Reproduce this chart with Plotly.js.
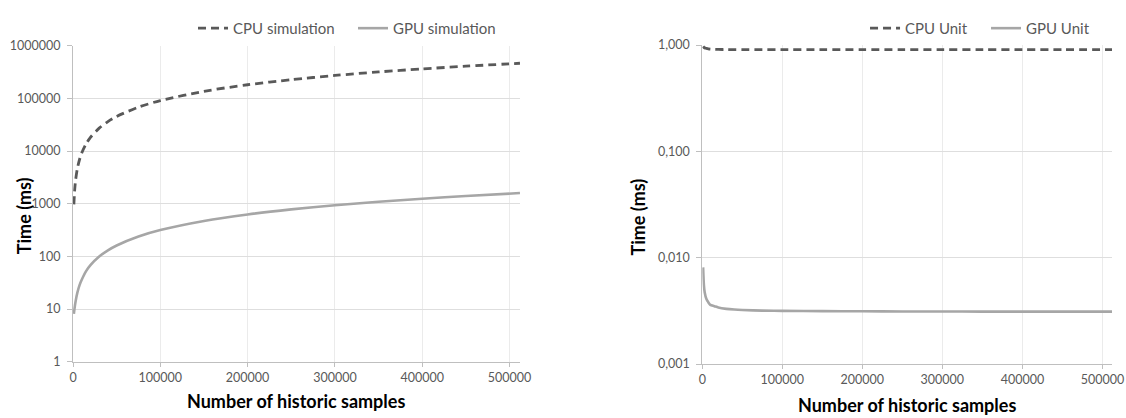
<!DOCTYPE html>
<html>
<head>
<meta charset="utf-8">
<script src="https://cdn.plot.ly/plotly-3.0.1.min.js"></script>
<style>html,body{margin:0;padding:0;background:#fff;}#chart{width:1126px;height:418px;}</style>
</head>
<body>
<div id="chart"></div>
<script>
// Number of historic samples (x)
const samples = [1000, 2000, 3000, 5000, 7500, 10000, 15000, 20000, 30000, 40000, 50000, 75000, 100000, 150000, 200000, 250000, 300000, 350000, 400000, 450000, 512000];

// Left chart: total simulation time (ms)
const cpuSimulation = [970, 1900, 2820, 4650, 6900, 9150, 13650, 18160, 27180, 36200, 45250, 67900, 90500, 135800, 181000, 226000, 271500, 317000, 362000, 407000, 463000];
const gpuSimulation = [8.1, 11, 14.1, 20.5, 28.5, 36, 52.5, 68, 99, 130, 161, 238.5, 316, 471, 626, 780, 936, 1089, 1244, 1400, 1592];

// Right chart: time per unit (ms)
const cpuUnit = [0.97, 0.95, 0.94, 0.93, 0.92, 0.915, 0.91, 0.908, 0.906, 0.905, 0.905, 0.905, 0.905, 0.905, 0.905, 0.905, 0.905, 0.905, 0.905, 0.905, 0.905];
const gpuUnit = [0.0081, 0.0055, 0.0047, 0.0041, 0.0038, 0.0036, 0.0035, 0.0034, 0.0033, 0.00325, 0.00322, 0.00318, 0.00316, 0.00314, 0.00313, 0.00312, 0.00312, 0.00311, 0.00311, 0.00311, 0.00311];

// Tick labels
const xTickVals = [0, 100000, 200000, 300000, 400000, 500000];
const xTickText = ["0", "100000", "200000", "300000", "400000", "500000"];
const leftYTickVals = [1, 10, 100, 1000, 10000, 100000, 1000000];
const leftYTickText = ["1", "10", "100", "1000", "10000", "100000", "1000000"];
const rightYTickVals = [0.001, 0.01, 0.1, 1];
const rightYTickText = ["0,001", "0,010", "0,100", "1,000"];

// Labels
const seriesNames = ["CPU simulation", "GPU simulation", "CPU Unit", "GPU Unit"];
const yTitle = "Time (ms)";
const xTitle = "Number of historic samples";

const FONT = "Lato, 'Open Sans', sans-serif";
const cpuLine = {color: "#595959", width: 2.8, dash: "8px,5px", shape: "spline", smoothing: 0.8};
const gpuLine = {color: "#a6a6a6", width: 2.6, shape: "spline", smoothing: 0.8};

const traces = [
  {x: samples, y: cpuSimulation, name: seriesNames[0], type: "scatter", mode: "lines", line: cpuLine, xaxis: "x", yaxis: "y", legend: "legend"},
  {x: samples, y: gpuSimulation, name: seriesNames[1], type: "scatter", mode: "lines", line: gpuLine, xaxis: "x", yaxis: "y", legend: "legend"},
  {x: samples, y: cpuUnit, name: seriesNames[2], type: "scatter", mode: "lines", line: cpuLine, xaxis: "x2", yaxis: "y2", legend: "legend2"},
  {x: samples, y: gpuUnit, name: seriesNames[3], type: "scatter", mode: "lines", line: gpuLine, xaxis: "x2", yaxis: "y2", legend: "legend2"}
];

const tickFont = {family: FONT, size: 12.5, color: "#595959"};
function xAxis(domain, anchor) {
  return {
    domain: domain, anchor: anchor, range: [0, 512000],
    tickmode: "array", tickvals: xTickVals, ticktext: xTickText,
    showgrid: true, gridcolor: "#ebebeb", gridwidth: 1,
    showline: true, linecolor: "#bfbfbf", linewidth: 1,
    ticks: "outside", ticklen: 4, tickcolor: "#bfbfbf",
    tickfont: tickFont, zeroline: false, automargin: false, fixedrange: true
  };
}
function yAxis(domain, anchor, range, vals, text) {
  return {
    domain: domain, anchor: anchor, type: "log", range: range,
    tickmode: "array", tickvals: vals, ticktext: text,
    showgrid: true, gridcolor: "#dedede", gridwidth: 1,
    showline: true, linecolor: "#bfbfbf", linewidth: 1,
    ticks: "outside", ticklen: 5, tickcolor: "#bfbfbf", ticklabelstandoff: 4,
    tickfont: tickFont, zeroline: false, automargin: false, fixedrange: true
  };
}

const titleFont = {family: FONT, size: 18, color: "#000000", weight: "bold"};
const legendFont = {family: FONT, size: 15, color: "#595959"};

const layout = {
  width: 1126, height: 418,
  margin: {l: 73, r: 14, t: 35, b: 54},
  paper_bgcolor: "#ffffff", plot_bgcolor: "#ffffff",
  font: {family: FONT},
  showlegend: true,
  xaxis: xAxis([0, 0.4302], "y"),
  yaxis: yAxis([0.007, 0.998], "x", [0, 6], leftYTickVals, leftYTickText),
  xaxis2: xAxis([0.6057, 1], "y2"),
  yaxis2: yAxis([0, 1], "x2", [-3, 0], rightYTickVals, rightYTickText),
  legend: {orientation: "h", x: 0.1155, xanchor: "left", y: 1.052, yanchor: "middle", font: legendFont, bgcolor: "rgba(0,0,0,0)", traceorder: "normal", entrywidth: 115},
  legend2: {orientation: "h", x: 0.7623, xanchor: "left", y: 1.052, yanchor: "middle", font: legendFont, bgcolor: "rgba(0,0,0,0)", traceorder: "normal", entrywidth: 76},
  annotations: [
    {text: yTitle, xref: "paper", yref: "paper", x: -0.0476, y: 0.465, xanchor: "center", yanchor: "middle", textangle: -90, showarrow: false, font: titleFont},
    {text: yTitle, xref: "paper", yref: "paper", x: 0.5438, y: 0.459, xanchor: "center", yanchor: "middle", textangle: -90, showarrow: false, font: titleFont},
    {text: xTitle, xref: "paper", yref: "paper", x: 0.2151, y: -0.1155, xanchor: "center", yanchor: "middle", showarrow: false, font: titleFont},
    {text: xTitle, xref: "paper", yref: "paper", x: 0.8027, y: -0.1277, xanchor: "center", yanchor: "middle", showarrow: false, font: titleFont}
  ]
};

Plotly.newPlot("chart", traces, layout, {staticPlot: true, displayModeBar: false});
</script>
</body>
</html>
